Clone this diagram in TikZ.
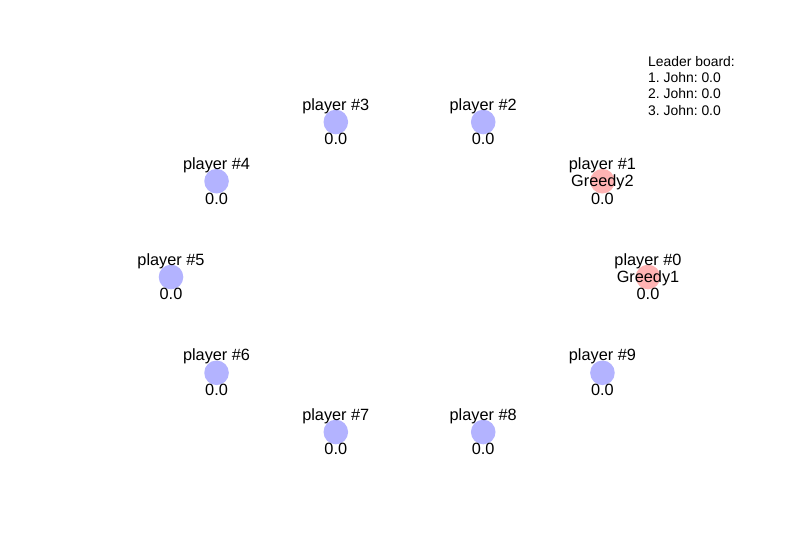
\documentclass[tikz,border=0pt]{standalone}
\usepackage{fontspec}
\setmainfont{Liberation Sans}
\usetikzlibrary{calc}
\definecolor{playerblue}{RGB}{179,179,255}
\definecolor{playerred}{RGB}{255,179,179}
\tikzset{
  bluedot/.style={circle,fill=playerblue,draw=none,minimum size=24.6pt,inner sep=0pt},
  reddot/.style={circle,fill=playerred,draw=none,minimum size=24.6pt,inner sep=0pt},
  plabel/.style={font=\fontsize{16.3}{19}\selectfont,anchor=base,inner sep=0pt},
  board/.style={font=\frenchspacing\fontsize{13.9}{15}\selectfont,anchor=base west,inner sep=0pt}
}

\begin{document}
\begin{tikzpicture}[x=1pt,y=-1pt]

\useasboundingbox (0,0) rectangle (800,550);

\coordinate (P0) at (648,277);
\coordinate (P1) at (602.45,181.2);
\coordinate (P2) at (483.2,122);
\coordinate (P3) at (335.8,122);
\coordinate (P4) at (216.55,181.2);
\coordinate (P5) at (171,277);
\coordinate (P6) at (216.55,372.8);
\coordinate (P7) at (335.8,432);
\coordinate (P8) at (483.2,432);
\coordinate (P9) at (602.45,372.8);

% players
\node[reddot] (d0) at (P0) {};
\node[reddot] (d1) at (P1) {};
\node[bluedot] (d2) at (P2) {};
\node[bluedot] (d3) at (P3) {};
\node[bluedot] (d4) at (P4) {};
\node[bluedot] (d5) at (P5) {};
\node[bluedot] (d6) at (P6) {};
\node[bluedot] (d7) at (P7) {};
\node[bluedot] (d8) at (P8) {};
\node[bluedot] (d9) at (P9) {};

% names and scores
\foreach \k in {0,...,9} {
  \node[plabel] (name\k) at ($(P\k)+(0,-12)$) {player \#\k};
  \node[plabel] (score\k) at ($(P\k)+(0,22.8)$) {0.0};
}
\node[plabel] (bot0) at ($(P0)+(0,5.4)$) {Greedy1};
\node[plabel] (bot1) at ($(P1)+(0,5.4)$) {Greedy2};

% leader board
\node[board] (lb0) at (648,66.3) {Leader board:};
\node[board] (lb1) at (648,82.6) {1. John: 0.0};
\node[board] (lb2) at (648,98.9) {2. John: 0.0};
\node[board] (lb3) at (648,115.2) {3. John: 0.0};

\end{tikzpicture}
\end{document}
